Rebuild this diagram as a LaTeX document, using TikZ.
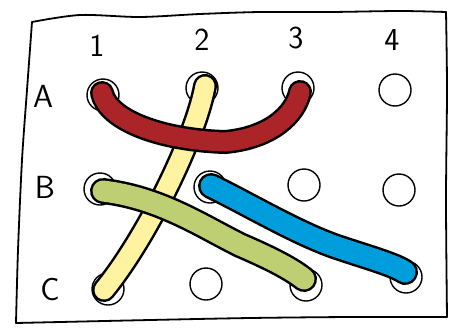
\documentclass[tikz,border=0pt]{standalone}
\definecolor{bandred}{RGB}{170,36,40}
\definecolor{bandyellow}{RGB}{255,242,160}
\definecolor{bandgreen}{RGB}{190,206,115}
\definecolor{bandblue}{RGB}{0,157,221}
\begin{document}
\begin{tikzpicture}[x=1pt,y=-1pt,
  hole/.style={circle, draw=black, line width=1.4pt, fill=white, minimum size=32pt, inner sep=0pt},
  lbl/.style={font=\sffamily\fontsize{32}{32}\selectfont, inner sep=0pt},
  edge/.style={line width=1.8pt, line cap=round, line join=round},
  bandout/.style={line width=#1, line cap=round, draw=black},
  bandin/.style={line width=#1, line cap=round}]
\useasboundingbox (0,0) rectangle (449,327);
% frame
\draw[edge] plot[smooth] coordinates {(32,22) (80,15) (140,17) (200,14) (260,12) (330,12) (400,11) (446,12)};
\draw[edge] plot[smooth] coordinates {(446,12) (447,90) (446,200) (447,317)};
\draw[edge] plot[smooth] coordinates {(447,317) (350,317) (250,318) (150,320) (60,322) (16,323)};
\draw[edge] plot[smooth] coordinates {(16,323) (18,250) (22,160) (27,90) (32,22)};
% labels
\node[lbl] (c1) at (97,46) {1};
\node[lbl] (c2) at (202,40) {2};
\node[lbl] (c3) at (296,38) {3};
\node[lbl] (c4) at (392,40) {4};
\node[lbl] (rA) at (43,96) {A};
\node[lbl] (rB) at (45,187) {B};
\node[lbl] (rC) at (50,290) {C};
% holes
\node[hole] (A1) at (103,95) {};
\node[hole] (A2) at (202,88) {};
\node[hole] (A3) at (298,88) {};
\node[hole] (A4) at (395,90) {};
\node[hole] (B1) at (100,189) {};
\node[hole] (B2) at (210,187) {};
\node[hole] (B3) at (304,185) {};
\node[hole] (B4) at (399,190) {};
\node[hole] (C1) at (108,289) {};
\node[hole] (C2) at (206,284) {};
\node[hole] (C3) at (306,285) {};
\node[hole] (C4) at (406,277) {};
% yellow band C1 -> A2
\draw[bandout=24pt] (104,290) .. controls (145,240) and (195,140) .. (205,86);
\draw[bandin=19pt, bandyellow] (104,290) .. controls (145,240) and (195,140) .. (205,86);
% red band A1 -> A3
\draw[bandout=24pt] (102,93) .. controls (108,120) and (160,140) .. (225,142) .. controls (270,138) and (295,115) .. (300,92);
\draw[bandin=19pt, bandred] (102,93) .. controls (108,120) and (160,140) .. (225,142) .. controls (270,138) and (295,115) .. (300,92);
% green band B1 -> C3
\draw[bandout=26pt] (103,191) .. controls (160,198) and (200,225) .. (240,245) .. controls (270,258) and (290,268) .. (304,279);
\draw[bandin=21pt, bandgreen] (103,191) .. controls (160,198) and (200,225) .. (240,245) .. controls (270,258) and (290,268) .. (304,279);
% blue band B2 -> C4
\draw[bandout=26pt] (211,186) .. controls (250,205) and (300,235) .. (340,248) .. controls (370,258) and (395,265) .. (405,272);
\draw[bandin=21pt, bandblue] (211,186) .. controls (250,205) and (300,235) .. (340,248) .. controls (370,258) and (395,265) .. (405,272);
\end{tikzpicture}
\end{document}
